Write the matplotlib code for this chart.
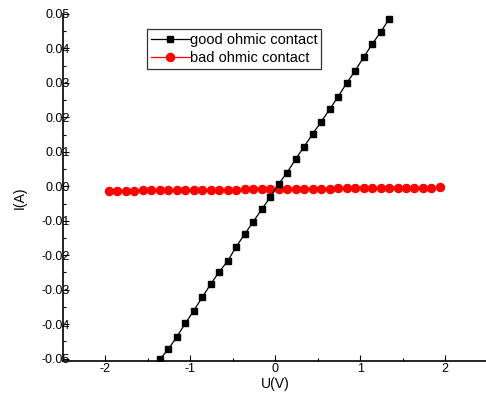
import matplotlib
matplotlib.use("Agg")
import matplotlib.pyplot as plt
from matplotlib.ticker import MultipleLocator

plt.rcParams['font.family'] = ['Liberation Sans', 'DejaVu Sans']
plt.rcParams['axes.unicode_minus'] = False

good_u = [-1.36, -1.26, -1.16, -1.06, -0.96, -0.86, -0.76, -0.66, -0.56, -0.46,
          -0.36, -0.26, -0.16, -0.06, 0.04, 0.14, 0.24, 0.34, 0.44, 0.54,
          0.64, 0.74, 0.84, 0.94, 1.04, 1.14, 1.24, 1.34]
good_i = [-0.0502, -0.0473, -0.0437, -0.0398, -0.0361, -0.0322, -0.0284, -0.0248, -0.0217, -0.0175,
          -0.0139, -0.0103, -0.0067, -0.0032, 0.0007, 0.0040, 0.0079, 0.0115, 0.0152, 0.0187,
          0.0223, 0.0260, 0.0299, 0.0335, 0.0374, 0.0412, 0.0447, 0.0485]

bad_u = [-1.96, -1.86, -1.76, -1.66, -1.56, -1.46, -1.36, -1.26, -1.16, -1.06,
         -0.96, -0.86, -0.76, -0.66, -0.56, -0.46, -0.36, -0.26, -0.16, -0.06,
         0.04, 0.14, 0.24, 0.34, 0.44, 0.54, 0.64, 0.74, 0.84, 0.94,
         1.04, 1.14, 1.24, 1.34, 1.44, 1.54, 1.64, 1.74, 1.84, 1.94]
bad_i = [-0.00130, -0.00128, -0.00127, -0.00125, -0.00122, -0.00120, -0.00118, -0.00116, -0.00113, -0.00111,
         -0.00108, -0.00106, -0.00103, -0.00100, -0.00098, -0.00095, -0.00093, -0.00090, -0.00088, -0.00085,
         -0.00082, -0.00080, -0.00077, -0.00074, -0.00072, -0.00069, -0.00066, -0.00063, -0.00061, -0.00058,
         -0.00055, -0.00053, -0.00050, -0.00047, -0.00045, -0.00042, -0.00040, -0.00037, -0.00035, -0.00032]

x_ticks = [-2, -1, 0, 1, 2]
y_ticks = [-0.05, -0.04, -0.03, -0.02, -0.01, 0.00, 0.01, 0.02, 0.03, 0.04, 0.05]

fig = plt.figure(figsize=(4.86, 3.98), dpi=100)
ax = fig.add_axes([63/486, 37/398, 424.5/486, 347/398])

ax.plot(good_u, good_i, color='black', lw=0.9, marker='s', ms=5,
        label='good ohmic contact', zorder=3)
ax.plot(bad_u, bad_i, color='red', lw=0.9, marker='o', ms=5.8,
        label='bad ohmic contact', zorder=2)

ax.set_xlim(-2.5, 2.5)
ax.set_ylim(-0.0507, 0.05)
ax.set_xticks(x_ticks)
ax.set_xticklabels([str(v) for v in x_ticks])
ax.set_yticks(y_ticks)
ax.set_yticklabels([f"{v:.2f}" for v in y_ticks])
ax.xaxis.set_minor_locator(MultipleLocator(0.5))
ax.yaxis.set_minor_locator(MultipleLocator(0.005))

for s in ['top', 'right']:
    ax.spines[s].set_visible(False)
for s in ['left', 'bottom']:
    ax.spines[s].set_linewidth(1.2)

ax.tick_params(axis='both', which='both', direction='in', width=0.8)
ax.tick_params(axis='both', which='major', length=4, labelsize=9)
ax.tick_params(axis='both', which='minor', length=2.5)
ax.tick_params(axis='y', which='major', pad=-5.2)
ax.tick_params(axis='x', which='major', pad=1.5)
for lab in ax.get_yticklabels():
    lab.set_zorder(5)

ax.set_xlabel('U(V)', fontsize=10, labelpad=1.5)
ax.set_ylabel('I(A)', fontsize=10)
ax.yaxis.set_label_coords(-36/424.5, 0.47)

leg = ax.legend(loc='upper left', fontsize=10.5, frameon=True, fancybox=False,
                borderpad=0.25, labelspacing=0.3, handlelength=2.7, handletextpad=0.0,
                borderaxespad=0.0)
leg.set_bbox_to_anchor((147/486, (398 - 29)/398), transform=fig.transFigure)
leg.get_frame().set_edgecolor('black')
leg.get_frame().set_linewidth(0.9)

fig.savefig('out.png', dpi=100)
